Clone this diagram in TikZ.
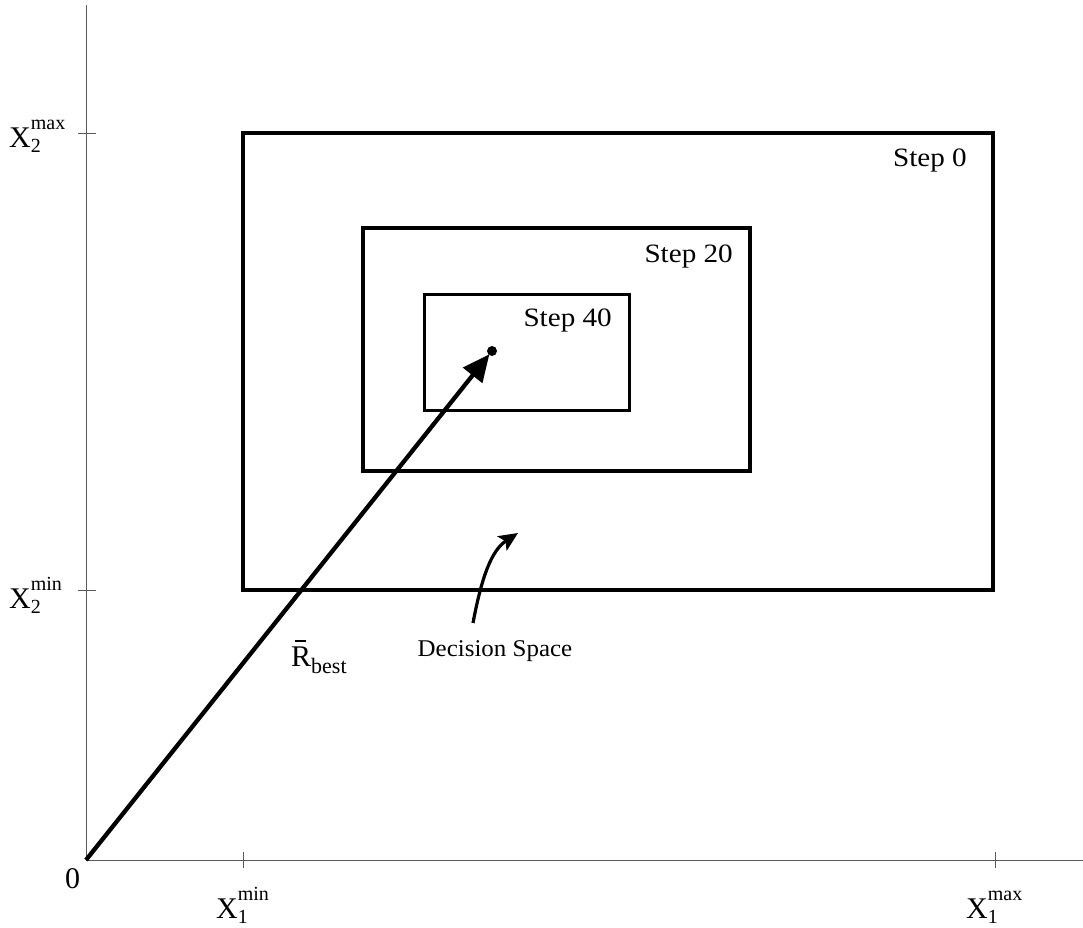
\documentclass[tikz,border=0pt]{standalone}
\usepackage{fontspec}
\setmainfont{Liberation Serif}
\usetikzlibrary{arrows.meta}
\newcommand{\axlab}[2]{{\fontsize{30}{30}\selectfont X}{\fontsize{20}{20}\selectfont\rlap{\raisebox{18pt}{#2}}\raisebox{-5pt}{#1}}}
\tikzset{
  axisline/.style={line width=1pt, draw=black!65},
  tickline/.style={line width=0.8pt, draw=black!65},
  boxzero/.style={line width=4.5pt, draw=black},
  boxmid/.style={line width=3.2pt, draw=black},
  steplabel/.style={font=\fontsize{26.5}{26.5}\selectfont, xscale=1.1, inner sep=0, anchor=base east},
  axislabel/.style={inner sep=0, anchor=base west},
}
\begin{document}
\begin{tikzpicture}[x=1pt, y=-1pt]
\useasboundingbox (0,0) rectangle (1083,927);
% axes
\coordinate (o) at (86,860);
\coordinate (ytop) at (86,5);
\coordinate (xend) at (1083,860);
\draw[axisline] (o) -- (ytop);
\draw[axisline] (o) -- (xend);
% ticks
\draw[tickline] (78,133) -- (96,133);
\draw[tickline] (78,590) -- (96,590);
\draw[tickline] (243,852) -- (243,868);
\draw[tickline] (995,852) -- (995,868);
% boxes
\draw[boxzero] (243,133) rectangle (993,590);
\draw[boxmid] (363,228) rectangle (750,471);
\draw[boxmid, line width=3pt] (424,294) rectangle (629,410);
% labels of the boxes
\node[steplabel] (s0) at (967,166) {Step 0};
\node[steplabel] (s20) at (733,262) {Step 20};
\node[steplabel] (s40) at (612,326) {Step 40};
% best point and arrow
\node[circle, fill=black, inner sep=0, minimum size=10pt] (best) at (492,351) {};
\draw[line width=4.3pt, -{Triangle[length=27pt, width=24pt]}, shorten >=-1pt] (o) -- (best);
\node[inner sep=0, anchor=base west] (rbest) at (291,666)
  {{\fontsize{30}{30}\selectfont\rlap{\hspace{4pt}\rule[24pt]{11pt}{1.8pt}}R}{\fontsize{22}{22}\selectfont\raisebox{-7pt}{best}}};
% decision space
\node[inner sep=0, anchor=base, font=\fontsize{24}{24}\selectfont, xscale=1.04] (ds) at (495,656) {Decision Space};
\coordinate (dstail) at (473,623);
\coordinate (dstip) at (518,533);
\draw[line width=3.2pt, -{Stealth[length=19pt, width=17pt, inset=4pt]}] (dstail) .. controls (482,575) and (492,550) .. (dstip);
% axis labels
\node[axislabel] (x2max) at (9,147) {\axlab{2}{max}};
\node[axislabel] (x2min) at (9,608) {\axlab{2}{min}};
\node[axislabel] (x1min) at (216,918) {\axlab{1}{min}};
\node[axislabel] (x1max) at (966,918) {\axlab{1}{max}};
\node[axislabel, font=\fontsize{30}{30}\selectfont] (zero) at (65,888) {0};
\end{tikzpicture}
\end{document}
